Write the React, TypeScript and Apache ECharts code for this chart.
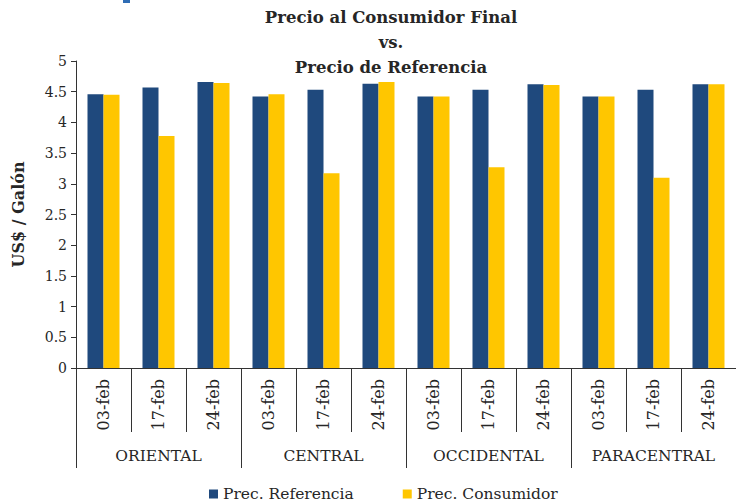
import React, { useEffect, useRef } from "react";
import * as echarts from "echarts";

const dates = ["03-feb", "17-feb", "24-feb", "03-feb", "17-feb", "24-feb", "03-feb", "17-feb", "24-feb", "03-feb", "17-feb", "24-feb"];
const regions = ["ORIENTAL", "CENTRAL", "OCCIDENTAL", "PARACENTRAL"];
const precReferencia = [4.46, 4.57, 4.66, 4.42, 4.53, 4.63, 4.42, 4.53, 4.62, 4.42, 4.53, 4.62];
const precConsumidor = [4.45, 3.78, 4.64, 4.46, 3.17, 4.66, 4.42, 3.27, 4.61, 4.42, 3.10, 4.62];
const seriesNames = ["Prec. Referencia", "Prec. Consumidor"];

const FONT = "DejaVu Serif";
const TXT = "#262626";

export default function App() {
  const ref = useRef<HTMLDivElement>(null);
  useEffect(() => {
    if (!ref.current) return;
    const chart = echarts.init(ref.current, undefined, { renderer: "svg" });
    chart.setOption({
      animation: false,
      backgroundColor: "#ffffff",
      textStyle: { fontFamily: FONT },
      title: {
        text: "Precio al Consumidor Final\nvs.\nPrecio de Referencia",
        left: 386,
        textAlign: "center",
        top: 0,
        textStyle: { fontFamily: FONT, fontSize: 16.5, fontWeight: "bold", color: TXT, lineHeight: 25 },
      },
      graphic: [
        { type: "rect", left: 123, top: 0, shape: { width: 7, height: 3 }, style: { fill: "#2f6db5" } },
      ],
      legend: {
        data: seriesNames,
        bottom: 2,
        left: 209,
        padding: 0,
        itemWidth: 9,
        itemHeight: 9,
        itemGap: 49,
        icon: "rect",
        textStyle: { fontFamily: FONT, fontSize: 15.5, color: TXT },
      },
      grid: { left: 76, top: 61, height: 307, width: 667, containLabel: false },
      xAxis: [
        {
          type: "category",
          data: dates,
          position: "bottom",
          axisLine: { show: true, lineStyle: { color: "#333", width: 1 } },
          axisTick: { show: true, interval: 0, length: 64, lineStyle: { color: "#333" } },
          axisLabel: { interval: 0, rotate: 90, margin: 11, fontFamily: FONT, fontSize: 16, color: TXT },
        },
        {
          type: "category",
          data: regions,
          position: "bottom",
          axisLine: { show: false },
          axisTick: { show: true, interval: 0, length: 100, lineStyle: { color: "#333" } },
          axisLabel: { interval: 0, margin: 80, fontFamily: FONT, fontSize: 15.5, color: TXT },
        },
      ],
      yAxis: {
        type: "value",
        min: 0,
        max: 5,
        interval: 0.5,
        name: "US$ / Galón",
        nameLocation: "middle",
        nameGap: 50,
        nameTextStyle: { fontFamily: FONT, fontSize: 16, fontWeight: "bold", color: TXT },
        axisLine: { show: true, lineStyle: { color: "#333" } },
        axisTick: { show: true, length: 5, lineStyle: { color: "#333" } },
        axisLabel: { margin: 9, fontFamily: FONT, fontSize: 14, color: TXT },
        splitLine: { show: false },
      },
      series: [
        {
          name: seriesNames[0],
          type: "bar",
          xAxisIndex: 0,
          data: precReferencia,
          barWidth: 16,
          barGap: "0%",
          itemStyle: { color: "#1F497D" },
        },
        {
          name: seriesNames[1],
          type: "bar",
          xAxisIndex: 0,
          data: precConsumidor,
          barWidth: 16,
          barGap: "0%",
          itemStyle: { color: "#FFC600" },
        },
      ],
    });
    return () => chart.dispose();
  }, []);
  return (
    <div
      ref={ref}
      style={{ position: "fixed", left: 0, top: 0, width: 736, height: 504 }}
    />
  );
}
